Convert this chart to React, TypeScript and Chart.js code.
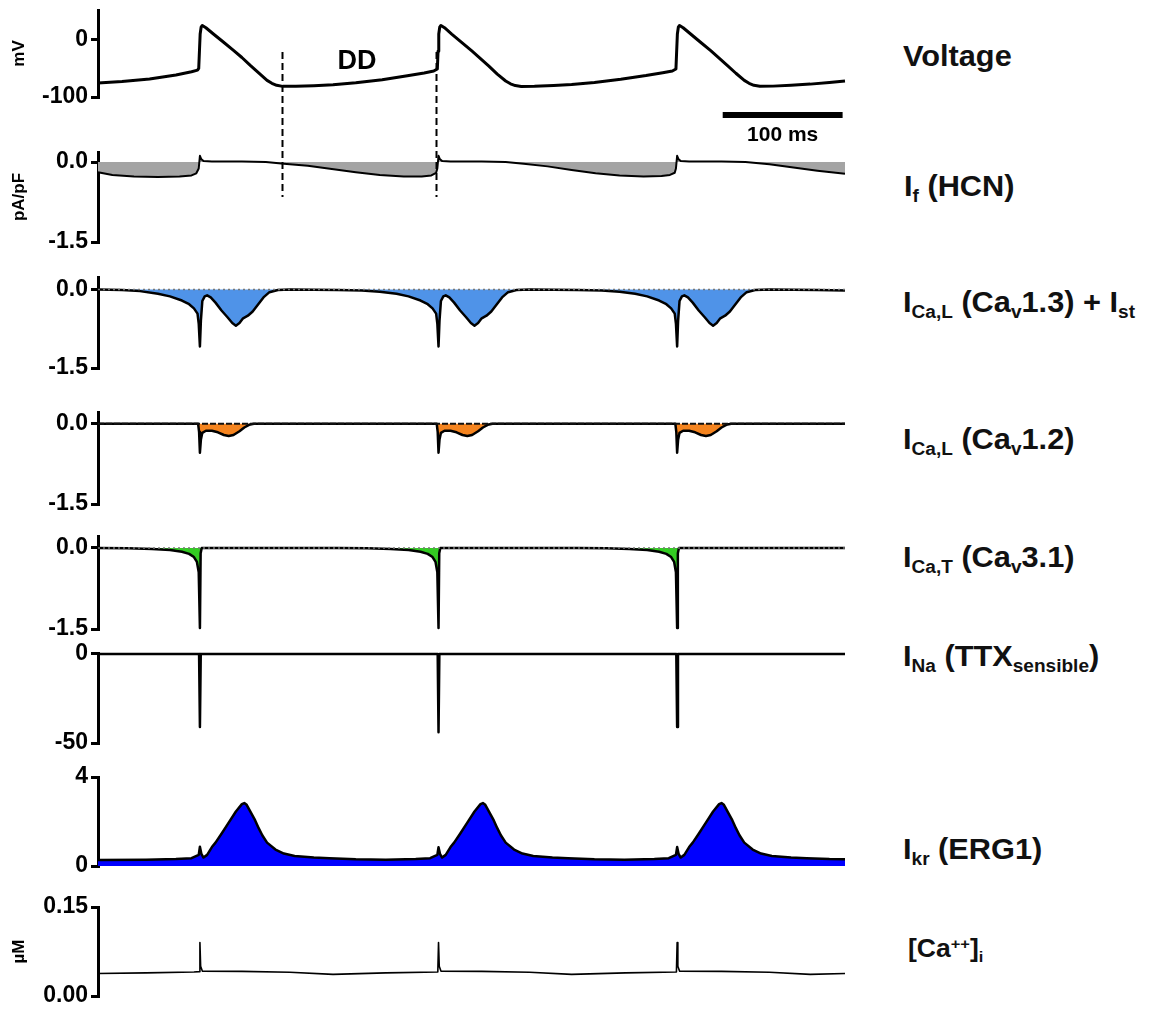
import React, { useEffect, useRef } from 'react';
import { Chart, registerables } from 'chart.js';

Chart.register(...registerables);

const FONT = '"Liberation Sans", Arial, Helvetica, sans-serif';

// ---- time axis (ms) ----
const X_MAX = 623;
const DD_MARKS = [153.5, 282];        // dashed markers for diastolic depolarisation
const DD_LABEL_T = 216;
const SCALE_BAR = [521, 621];         // 100 ms scale bar

// ---- series: [time ms, value] ----
const VOLTAGE = [
  [0, -75.6], [20, -73], [43, -68.6], [65, -61.5], [78, -56], [83, -53], [84, -50], [84.6, -20], [85.2, 10], [86, 22],
  [87, 25], [90, 21], [96, 10.5], [104, -3], [113, -18.6], [120, -31], [127, -44.8], [134, -58], [141, -71], [145, -76],
  [149, -79.6], [154, -81.4], [165, -81.2], [180, -80.2], [196, -78.4], [215, -75], [237, -69.7], [258, -63], [272, -58], [280, -54.7],
  [283, -51], [283.6, -20], [284.2, 10], [285, 22], [286, 25], [289, 21], [295, 10], [303, -4], [312, -20], [319, -33],
  [326, -46], [333, -60], [340, -72], [344, -77], [348, -80], [353, -81.5], [364, -81.3], [380, -80], [395, -78.2], [414, -74.5],
  [436, -69], [457, -62.5], [471, -57.5], [479, -54.5], [482, -51], [482.6, -20], [483.2, 10], [484, 22], [485, 25], [488, 21],
  [494, 10.5], [502, -3.5], [511, -19], [518, -32], [525, -45], [532, -58.5], [539, -71], [543, -76], [547, -79.5], [552, -81.3],
  [563, -81], [578, -79.5], [594, -77.5], [610, -74.5], [623, -72],
];

const I_F = [
  [0, -0.19], [12, -0.24], [30, -0.27], [50, -0.28], [68, -0.27], [78, -0.25], [82, -0.21], [84, -0.12], [85, 0.12], [86, 0.06],
  [88, 0.02], [95, 0.01], [120, 0.01], [140, 0], [155, -0.03], [175, -0.07], [195, -0.13], [215, -0.19], [235, -0.24], [255, -0.27],
  [270, -0.27], [278, -0.25], [282, -0.2], [283, -0.12], [284, 0.12], [285, 0.06], [287, 0.02], [294, 0.01], [320, 0.01], [340, 0],
  [355, -0.03], [375, -0.08], [395, -0.15], [415, -0.21], [435, -0.25], [455, -0.27], [470, -0.26], [477, -0.24], [481, -0.2], [482, -0.12],
  [483, 0.12], [484, 0.06], [486, 0.02], [493, 0.01], [520, 0.01], [540, 0], [560, -0.04], [580, -0.1], [600, -0.16], [623, -0.22],
];

const I_CAL13 = [
  [0, 0], [20, -0.01], [35, -0.03], [50, -0.08], [60, -0.13], [70, -0.21], [76, -0.28], [80, -0.36], [83, -0.46], [84, -0.65],
  [85, -1.09], [85.8, -0.6], [87, -0.22], [89, -0.13], [91, -0.11], [94, -0.15], [98, -0.25], [103, -0.4], [108, -0.53], [112, -0.64],
  [115, -0.69], [118, -0.64], [121, -0.55], [125, -0.5], [129, -0.42], [133, -0.3], [138, -0.15], [143, -0.05], [150, -0.01], [160, 0],
  [200, -0.01], [220, -0.02], [235, -0.04], [249, -0.08], [259, -0.13], [269, -0.21], [275, -0.28], [279, -0.36], [282, -0.46], [283, -0.65],
  [284, -1.09], [284.8, -0.6], [286, -0.22], [288, -0.13], [290, -0.11], [293, -0.15], [297, -0.25], [302, -0.4], [307, -0.53], [311, -0.64],
  [314, -0.69], [317, -0.64], [320, -0.55], [324, -0.5], [328, -0.42], [332, -0.3], [337, -0.15], [342, -0.05], [349, -0.01], [360, 0],
  [400, -0.01], [420, -0.02], [435, -0.04], [448, -0.08], [458, -0.13], [468, -0.21], [474, -0.28], [478, -0.36], [481, -0.46], [482, -0.65],
  [483, -1.09], [483.8, -0.6], [485, -0.22], [487, -0.13], [489, -0.11], [492, -0.15], [496, -0.25], [501, -0.4], [506, -0.53], [510, -0.64],
  [513, -0.69], [516, -0.64], [519, -0.55], [523, -0.5], [527, -0.42], [531, -0.3], [536, -0.15], [541, -0.05], [548, -0.01], [560, 0],
  [600, -0.01], [623, -0.02],
];

const I_CAL12 = [
  [0, 0], [83.5, 0], [84.3, -0.15], [85, -0.54], [85.8, -0.3], [87, -0.17], [90, -0.13], [95, -0.13], [100, -0.16], [105, -0.21],
  [109, -0.23], [113, -0.21], [118, -0.14], [122, -0.07], [126, -0.02], [130, 0],
  [282.5, 0], [283.3, -0.15], [284, -0.54], [284.8, -0.3], [286, -0.17], [289, -0.13], [294, -0.13], [299, -0.16], [304, -0.21],
  [308, -0.23], [312, -0.21], [317, -0.14], [321, -0.07], [325, -0.02], [329, 0],
  [481.5, 0], [482.3, -0.15], [483, -0.54], [483.8, -0.3], [485, -0.17], [488, -0.13], [493, -0.13], [498, -0.16], [503, -0.21],
  [507, -0.23], [511, -0.21], [516, -0.14], [520, -0.07], [524, -0.02], [528, 0], [623, 0],
];

const I_CAT = [
  [0, 0], [25, -0.005], [45, -0.02], [60, -0.04], [70, -0.07], [76, -0.11], [80, -0.17], [82.5, -0.26], [84, -0.45], [85, -1.48],
  [85.6, -0.1], [86.5, 0],
  [200, 0], [225, -0.005], [244, -0.02], [259, -0.04], [269, -0.07], [275, -0.11], [279, -0.17], [281.5, -0.26], [283, -0.45], [284, -1.48],
  [284.6, -0.1], [285.5, 0],
  [400, 0], [424, -0.005], [443, -0.02], [458, -0.04], [468, -0.07], [474, -0.11], [478, -0.17], [480.5, -0.26], [482, -0.45], [483, -1.48],
  [483.6, -0.1], [484.5, 0], [623, 0],
];

const I_NA = [
  [0, 0], [84.3, 0], [85, -41], [85.7, 0], [283.3, 0], [284, -44], [284.7, 0], [482.3, 0], [483, -41], [483.7, 0], [623, 0],
];

const I_KR = [
  [0, 0.27], [40, 0.28], [65, 0.31], [78, 0.35], [84, 0.5], [85, 0.87], [86.2, 0.55], [88, 0.38], [91, 0.5], [95, 0.85],
  [98, 1.05], [103, 1.45], [109, 1.95], [115, 2.45], [120, 2.78], [122, 2.83], [124, 2.75], [128, 2.35], [131, 2.06], [134, 1.7],
  [137, 1.38], [141, 1.05], [148, 0.74], [155, 0.56], [164, 0.45], [180, 0.38], [193, 0.35], [215, 0.3], [240, 0.28], [265, 0.31],
  [277, 0.35], [283, 0.5], [284, 0.84], [285.2, 0.55], [287, 0.38], [290, 0.5], [294, 0.85], [297, 1.05], [302, 1.45], [308, 1.95],
  [314, 2.45], [319, 2.78], [321, 2.83], [323, 2.75], [327, 2.35], [330, 2.06], [333, 1.7], [336, 1.38], [340, 1.05], [347, 0.74],
  [354, 0.56], [363, 0.45], [379, 0.38], [392, 0.35], [414, 0.3], [439, 0.28], [464, 0.31], [476, 0.35], [482, 0.5], [483, 0.85],
  [484.2, 0.55], [486, 0.38], [489, 0.5], [493, 0.85], [496, 1.05], [501, 1.45], [507, 1.95], [513, 2.45], [518, 2.78], [520, 2.83],
  [522, 2.75], [526, 2.35], [529, 2.06], [532, 1.7], [535, 1.38], [539, 1.05], [546, 0.74], [553, 0.56], [562, 0.45], [578, 0.38],
  [591, 0.35], [610, 0.31], [623, 0.3],
];

const CA_I = [
  [0, 0.038], [40, 0.039], [80, 0.0405], [84.4, 0.041], [85, 0.09], [85.6, 0.05], [87, 0.042], [120, 0.0415], [160, 0.04], [196, 0.0365],
  [240, 0.039], [283.4, 0.0405], [284, 0.09], [284.6, 0.05], [286, 0.042], [320, 0.0415], [360, 0.04], [395, 0.0365], [440, 0.039], [482.4, 0.0405],
  [483, 0.09], [483.6, 0.05], [485, 0.042], [520, 0.0415], [560, 0.04], [594, 0.0365], [623, 0.038],
];

// ---- axes ----
const TICKS_V = [-100, 0];
const TICK_LABELS_V = ['-100', '0'];
const TICKS_PAPF = [-1.5, 0];
const TICK_LABELS_PAPF = ['-1.5', '0.0'];
const TICKS_NA = [-50, 0];
const TICK_LABELS_NA = ['-50', '0'];
const TICKS_KR = [0, 4];
const TICK_LABELS_KR = ['0', '4'];
const TICKS_CA = [0, 0.15];
const TICK_LABELS_CA = ['0.00', '0.15'];

const PLOT_LEFT = 98;
const PLOT_RIGHT = 845;
const CANVAS_W = 860;

type Series = { pts: number[][]; fill?: string; width: number };
type Panel = {
  key: string; axisTop: number; axisBottom: number; padTop: number; padBottom: number;
  min: number; max: number; ticks: number[]; labels: string[]; title?: string;
  series: Series[]; baseline?: { color: string; width: number; dash: number[] };
};

const PANELS: Panel[] = [
  { key: 'v', axisTop: 10, axisBottom: 96.7, padTop: 10, padBottom: 112, min: -100, max: 52,
    ticks: TICKS_V, labels: TICK_LABELS_V, title: 'mV', series: [{ pts: VOLTAGE, width: 3 }] },
  { key: 'f', axisTop: 152, axisBottom: 241.7, padTop: 20, padBottom: 20, min: -1.5, max: 0.19,
    ticks: TICKS_PAPF, labels: TICK_LABELS_PAPF, title: 'pA/pF', series: [{ pts: I_F, width: 2, fill: '#a4a4a4' }] },
  { key: 'l13', axisTop: 277.3, axisBottom: 368.3, padTop: 20, padBottom: 20, min: -1.5, max: 0.24,
    ticks: TICKS_PAPF, labels: TICK_LABELS_PAPF, series: [{ pts: I_CAL13, width: 2.5, fill: '#4f93e8' }],
    baseline: { color: '#777', width: 1.5, dash: [2, 3] } },
  { key: 'l12', axisTop: 411.7, axisBottom: 503.3, padTop: 20, padBottom: 20, min: -1.5, max: 0.22,
    ticks: TICKS_PAPF, labels: TICK_LABELS_PAPF, series: [{ pts: I_CAL12, width: 2.5, fill: '#f5841f' }],
    baseline: { color: '#111', width: 2, dash: [6, 2] } },
  { key: 'cat', axisTop: 535.7, axisBottom: 628.3, padTop: 20, padBottom: 20, min: -1.5, max: 0.22,
    ticks: TICKS_PAPF, labels: TICK_LABELS_PAPF, series: [{ pts: I_CAT, width: 2.5, fill: '#33cc22' }],
    baseline: { color: '#777', width: 1.5, dash: [2, 3] } },
  { key: 'na', axisTop: 653, axisBottom: 743.3, padTop: 20, padBottom: 20, min: -50, max: 0.5,
    ticks: TICKS_NA, labels: TICK_LABELS_NA, series: [{ pts: I_NA, width: 2.5 }] },
  { key: 'kr', axisTop: 776.7, axisBottom: 866, padTop: 20, padBottom: 20, min: 0, max: 4,
    ticks: TICKS_KR, labels: TICK_LABELS_KR, series: [{ pts: I_KR, width: 2.5, fill: '#0000ff' }] },
  { key: 'ca', axisTop: 907.3, axisBottom: 996.7, padTop: 20, padBottom: 13, min: 0, max: 0.15,
    ticks: TICKS_CA, labels: TICK_LABELS_CA, title: 'µM', series: [{ pts: CA_I, width: 1.6 }] },
];

const annotPlugin = {
  id: 'vAnnot',
  afterDatasetsDraw(chart: any) {
    const { ctx } = chart;
    const x = chart.scales.x;
    ctx.save();
    ctx.strokeStyle = '#000';
    ctx.lineWidth = 2;
    ctx.setLineDash([7, 4]);
    DD_MARKS.forEach((t) => {
      const px = Math.round(x.getPixelForValue(t)) + 0.5;
      ctx.beginPath();
      ctx.moveTo(px, 52);
      ctx.lineTo(px, 197);
      ctx.stroke();
    });
    ctx.setLineDash([]);
    ctx.fillStyle = '#000';
    ctx.textAlign = 'center';
    ctx.textBaseline = 'alphabetic';
    ctx.font = `bold 27px ${FONT}`;
    ctx.fillText('DD', x.getPixelForValue(DD_LABEL_T), 69);
    const x0 = x.getPixelForValue(SCALE_BAR[0]);
    const x1 = x.getPixelForValue(SCALE_BAR[1]);
    ctx.fillRect(x0, 112, x1 - x0, 6);
    ctx.font = `bold 21px ${FONT}`;
    ctx.fillText('100 ms', (x0 + x1) / 2, 141);
    ctx.restore();
  },
};

function makeChart(canvas: HTMLCanvasElement, p: Panel, annotate: boolean) {
  const datasets: any[] = [];
  p.series.forEach((s) => {
    datasets.push({
      data: s.pts.map((d) => ({ x: d[0], y: d[1] })),
      borderColor: '#000',
      borderWidth: s.width,
      backgroundColor: s.fill || 'rgba(0,0,0,0)',
      fill: s.fill ? 'origin' : false,
      pointRadius: 0,
      tension: 0,
      borderJoinStyle: 'round',
      clip: false,
      order: 2,
    });
  });
  if (p.baseline) {
    datasets.push({
      data: [{ x: 0, y: 0 }, { x: X_MAX, y: 0 }],
      borderColor: p.baseline.color,
      borderWidth: p.baseline.width,
      borderDash: p.baseline.dash,
      pointRadius: 0,
      fill: false,
      clip: false,
      order: 1,
    });
  }
  return new Chart(canvas, {
    type: 'line',
    data: { datasets },
    options: {
      animation: false,
      responsive: false,
      maintainAspectRatio: false,
      events: [],
      layout: { padding: { left: 0, right: CANVAS_W - PLOT_RIGHT, top: p.padTop, bottom: p.padBottom } },
      plugins: { legend: { display: false }, tooltip: { enabled: false }, title: { display: false } },
      scales: {
        x: { type: 'linear', display: false, min: 0, max: X_MAX },
        y: {
          type: 'linear',
          min: p.min,
          max: p.max,
          afterBuildTicks: (s: any) => { s.ticks = p.ticks.map((v) => ({ value: v })); },
          afterFit: (s: any) => { s.width = PLOT_LEFT; s.paddingTop = 0; s.paddingBottom = 0; },
          ticks: {
            callback: (_v: any, i: number) => p.labels[i],
            font: { family: FONT, size: 23, weight: 'bold' },
            color: '#000',
            padding: 3,
            autoSkip: false,
          },
          grid: {
            drawOnChartArea: false, drawTicks: true, tickLength: 7, tickWidth: 3,
            tickColor: '#000', color: '#000', lineWidth: 3,
          },
          border: { display: true, color: '#000', width: 3 },
          title: p.title
            ? { display: true, text: p.title, font: { family: FONT, size: 17, weight: 'bold' }, color: '#000', padding: { top: 9, bottom: 0 } }
            : { display: false },
        },
      },
    } as any,
    plugins: annotate ? [annotPlugin as any] : [],
  });
}

const subS = (t: string) => (
  <span style={{ fontSize: '0.62em', position: 'relative', top: '0.33em', lineHeight: 1 }}>{t}</span>
);
const supS = (t: string) => (
  <span style={{ fontSize: '0.62em', position: 'relative', top: '-0.5em', lineHeight: 1 }}>{t}</span>
);

const RIGHT_LABELS: { baseline: number; left: number; size: number; node: React.ReactNode }[] = [
  { baseline: 67, left: 903, size: 29, node: <>Voltage</> },
  { baseline: 197, left: 904, size: 29, node: <>I{subS('f')} (HCN)</> },
  { baseline: 313, left: 903, size: 29, node: <>I{subS('Ca,L')} (Ca{subS('v')}1.3) + I{subS('st')}</> },
  { baseline: 450, left: 903, size: 29, node: <>I{subS('Ca,L')} (Ca{subS('v')}1.2)</> },
  { baseline: 568, left: 903, size: 29, node: <>I{subS('Ca,T')} (Ca{subS('v')}3.1)</> },
  { baseline: 667, left: 903, size: 29, node: <>I{subS('Na')} (TTX{subS('sensible')})</> },
  { baseline: 860, left: 903, size: 29, node: <>I{subS('kr')} (ERG1)</> },
  { baseline: 957, left: 908, size: 25, node: <>[Ca{supS('++')}]{subS('i')}</> },
];

export default function App() {
  const refs = useRef<(HTMLCanvasElement | null)[]>([]);

  useEffect(() => {
    const charts = PANELS.map((p, i) => makeChart(refs.current[i] as HTMLCanvasElement, p, i === 0));
    return () => charts.forEach((c) => c.destroy());
  }, []);

  return (
    <div style={{ position: 'absolute', left: 0, top: 0, width: 1154, height: 1010, overflow: 'hidden', background: '#fff' }}>
      {PANELS.map((p, i) => {
        const top = p.axisTop - p.padTop;
        const h = Math.round(p.padTop + (p.axisBottom - p.axisTop) + p.padBottom);
        return (
          <canvas
            key={p.key}
            ref={(el) => { refs.current[i] = el; }}
            width={CANVAS_W}
            height={h}
            style={{ position: 'absolute', left: 0, top, width: CANVAS_W, height: h, zIndex: i === 0 ? 3 : 1 }}
          />
        );
      })}
      {RIGHT_LABELS.map((l, i) => (
        <div
          key={i}
          style={{
            position: 'absolute', left: l.left, top: l.baseline - 0.8465 * l.size,
            fontFamily: FONT, fontWeight: 'bold', fontSize: l.size, lineHeight: 1,
            color: '#111', whiteSpace: 'nowrap', transform: 'scaleX(1.06)', transformOrigin: 'left center',
          }}
        >
          {l.node}
        </div>
      ))}
    </div>
  );
}
